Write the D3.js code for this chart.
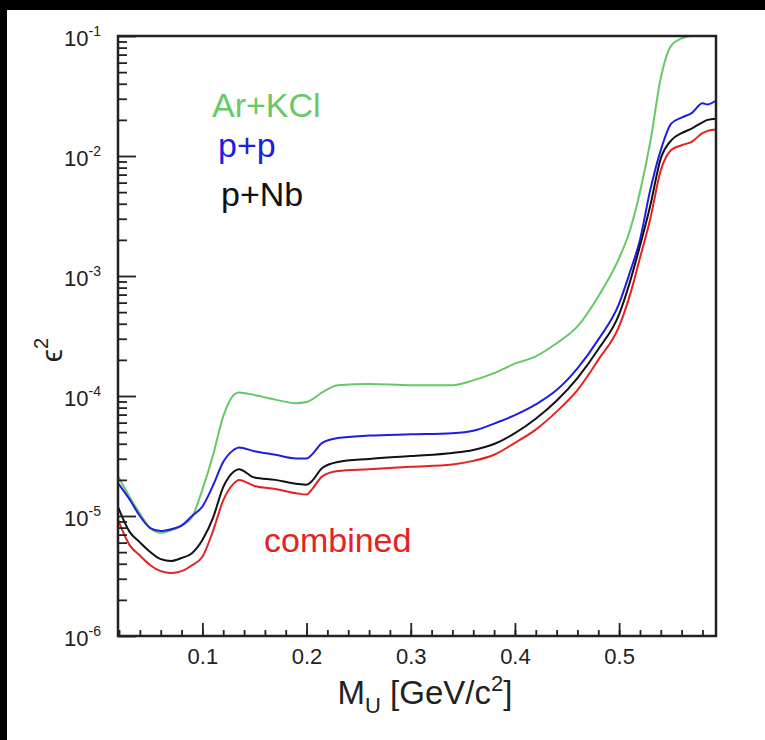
<!DOCTYPE html>
<html>
<head>
<meta charset="utf-8">
<script src="https://cdn.jsdelivr.net/npm/d3@7"></script>
<style>
    body { margin: 0; background: #fff; }
    svg { display: block; font-family: "Liberation Sans", Arial, sans-serif; }
</style>
</head>
<body>
<div id="chart"></div>
<script>
// U-boson mass grid [GeV/c^2]
const masses = [0.019, 0.03, 0.04, 0.05, 0.06, 0.07, 0.08, 0.09, 0.10, 0.11,
    0.12, 0.13, 0.135, 0.15, 0.17, 0.19, 0.20, 0.205, 0.215, 0.23,
    0.26, 0.30, 0.34, 0.36, 0.38, 0.40, 0.42, 0.44, 0.46, 0.48,
    0.50, 0.51, 0.52, 0.53, 0.54, 0.55, 0.56, 0.57, 0.58, 0.585, 0.593];

// upper limits on epsilon^2
const arKCl = [2.14e-5, 1.45e-5, 1.05e-5, 7.94e-6, 7.24e-6, 7.59e-6, 8.32e-6, 9.77e-6, 1.66e-5, 3.16e-5,
    6.76e-5, 1.02e-4, 1.07e-4, 1.02e-4, 9.33e-5, 8.71e-5, 8.91e-5, 9.33e-5, 1.07e-4, 1.23e-4,
    1.26e-4, 1.23e-4, 1.23e-4, 1.35e-4, 1.55e-4, 1.86e-4, 2.14e-4, 2.75e-4, 3.80e-4, 6.76e-4,
    1.41e-3, 2.34e-3, 5.01e-3, 1.32e-2, 4.47e-2, 8.32e-2, 9.55e-2, 0.1, 0.1, 0.1, 0.1];
const pp = [1.88e-5, 1.38e-5, 1.0e-5, 7.94e-6, 7.50e-6, 7.76e-6, 8.32e-6, 1.0e-5, 1.20e-5, 1.78e-5,
    2.82e-5, 3.55e-5, 3.72e-5, 3.47e-5, 3.24e-5, 3.02e-5, 3.02e-5, 3.24e-5, 4.07e-5, 4.47e-5,
    4.68e-5, 4.79e-5, 4.90e-5, 5.13e-5, 5.89e-5, 6.92e-5, 8.51e-5, 1.12e-4, 1.70e-4, 2.95e-4,
    5.89e-4, 1.05e-3, 2.00e-3, 5.25e-3, 1.12e-2, 1.86e-2, 2.09e-2, 2.29e-2, 2.75e-2, 2.69e-2, 2.90e-2];
const pNb = [1.19e-5, 7.41e-6, 6.03e-6, 5.01e-6, 4.37e-6, 4.22e-6, 4.47e-6, 4.90e-6, 6.31e-6, 9.55e-6,
    1.74e-5, 2.34e-5, 2.45e-5, 2.09e-5, 2.00e-5, 1.86e-5, 1.82e-5, 1.95e-5, 2.51e-5, 2.82e-5,
    2.99e-5, 3.16e-5, 3.35e-5, 3.55e-5, 3.98e-5, 4.90e-5, 6.46e-5, 9.12e-5, 1.41e-4, 2.45e-4,
    4.79e-4, 8.71e-4, 1.78e-3, 3.89e-3, 9.55e-3, 1.35e-2, 1.55e-2, 1.70e-2, 1.91e-2, 2.00e-2, 2.04e-2];
const combined = [9.27e-6, 5.75e-6, 4.68e-6, 3.89e-6, 3.47e-6, 3.35e-6, 3.47e-6, 3.89e-6, 4.57e-6, 7.41e-6,
    1.35e-5, 1.86e-5, 2.00e-5, 1.78e-5, 1.68e-5, 1.55e-5, 1.51e-5, 1.66e-5, 2.14e-5, 2.37e-5,
    2.45e-5, 2.57e-5, 2.69e-5, 2.88e-5, 3.24e-5, 4.07e-5, 5.25e-5, 7.41e-5, 1.12e-4, 2.00e-4,
    3.80e-4, 6.76e-4, 1.41e-3, 3.02e-3, 7.59e-3, 1.12e-2, 1.23e-2, 1.32e-2, 1.55e-2, 1.62e-2, 1.66e-2];

const seriesNames = ["Ar+KCl", "p+p", "p+Nb", "combined"];
const seriesValues = [arKCl, pp, pNb, combined];
const seriesColors = ["#66c866", "#1e1ee0", "#111111", "#e52222"];

const xMajorTicks = [0.1, 0.2, 0.3, 0.4, 0.5];
const yExponents = [-6, -5, -4, -3, -2, -1];

const width = 765, height = 740;
const margin = {top: 36, right: 49, bottom: 104, left: 118};
const innerW = width - margin.left - margin.right;
const innerH = height - margin.top - margin.bottom;

const svg = d3.select("#chart").append("svg")
    .attr("width", width)
    .attr("height", height);

// dark strips at the top and left edge of the screenshot
svg.append("rect").attr("x", 0).attr("y", 0).attr("width", width).attr("height", 10).attr("fill", "#000");
svg.append("rect").attr("x", 0).attr("y", 0).attr("width", 7).attr("height", height).attr("fill", "#000");

const g = svg.append("g")
    .attr("transform", "translate(" + margin.left + "," + margin.top + ")");

const xScale = d3.scaleLinear().domain([0.019, 0.593]).range([0, innerW]);
const yScale = d3.scaleLog().domain([1e-6, 1e-1]).range([innerH, 0]);

// curves
const line = d3.line()
    .x((d, i) => xScale(masses[i]))
    .y(d => yScale(d))
    .curve(d3.curveMonotoneX);

g.selectAll(".limitLine")
    .data(seriesValues)
    .join("path")
    .attr("class", "limitLine")
    .attr("fill", "none")
    .attr("stroke", (d, i) => seriesColors[i])
    .attr("stroke-width", 2)
    .attr("d", line);

// x axis: major + minor ticks pointing into the frame
const xMinor = d3.range(0.02, 0.5901, 0.02);
g.append("g").attr("transform", "translate(0," + innerH + ")")
    .call(d3.axisBottom(xScale).tickValues(xMinor).tickSize(-6).tickFormat(""))
    .call(sel => sel.select(".domain").remove());
g.append("g").attr("transform", "translate(0," + innerH + ")")
    .call(d3.axisBottom(xScale).tickValues(xMajorTicks).tickSize(-13).tickFormat(d3.format(".1f")))
    .call(sel => sel.select(".domain").remove())
    .call(sel => sel.selectAll("text")
        .attr("y", 12).attr("dy", "0.71em")
        .attr("font-size", 22).attr("fill", "#222")
        .attr("font-family", "Liberation Sans, Arial, sans-serif"));

// y axis: log ticks, decades long, 2..9 short
const yMinor = [];
yExponents.slice(0, -1).forEach(e => {
    for (let k = 2; k <= 9; k++) yMinor.push(k * Math.pow(10, e));
});
g.append("g")
    .call(d3.axisLeft(yScale).tickValues(yMinor).tickSize(-9).tickFormat(""))
    .call(sel => sel.select(".domain").remove());
g.append("g")
    .call(d3.axisLeft(yScale).tickValues(yExponents.map(e => Math.pow(10, e))).tickSize(-18).tickFormat(""))
    .call(sel => sel.select(".domain").remove());
g.selectAll(".tick line").attr("stroke", "#222").attr("stroke-width", 1.8);

// y tick labels as 10^n
const yLabels = g.selectAll(".yTickLabel")
    .data(yExponents)
    .join("text")
    .attr("class", "yTickLabel")
    .attr("x", -17)
    .attr("y", e => yScale(Math.pow(10, e)) + 10)
    .attr("text-anchor", "end")
    .attr("font-size", 22)
    .attr("fill", "#222");
yLabels.append("tspan").text("10");
yLabels.append("tspan").attr("font-size", 14).attr("dy", -10).text(e => e);

// frame
g.append("rect")
    .attr("width", innerW)
    .attr("height", innerH)
    .attr("fill", "none")
    .attr("stroke", "#222")
    .attr("stroke-width", 2.5);

// axis titles
const xTitle = g.append("text")
    .attr("x", innerW / 2 + 8)
    .attr("y", innerH + 68)
    .attr("text-anchor", "middle")
    .attr("font-size", 33)
    .attr("fill", "#222");
xTitle.append("tspan").text("M");
xTitle.append("tspan").attr("font-size", 22).attr("dy", 9).text("U");
xTitle.append("tspan").attr("dy", -9).text(" [GeV/c");
xTitle.append("tspan").attr("font-size", 22).attr("dy", -13).text("2");
xTitle.append("tspan").attr("dy", 13).text("]");

const yTitle = g.append("text")
    .attr("transform", "translate(" + (-56) + "," + (innerH / 2 + 14) + ") rotate(-90)")
    .attr("text-anchor", "middle")
    .attr("font-size", 30)
    .attr("fill", "#222");
yTitle.append("tspan").text("\u03f5");
yTitle.append("tspan").attr("font-size", 20).attr("dy", -14).text("2");

// legend labels placed in the plot
const legendPos = [[212, 117], [218, 157], [221, 206], [264, 552]];
svg.selectAll(".legendLabel")
    .data(seriesNames)
    .join("text")
    .attr("class", "legendLabel")
    .attr("x", (d, i) => legendPos[i][0])
    .attr("y", (d, i) => legendPos[i][1])
    .attr("font-size", 34)
    .attr("fill", (d, i) => seriesColors[i])
    .text(d => d);
</script>
</body>
</html>
